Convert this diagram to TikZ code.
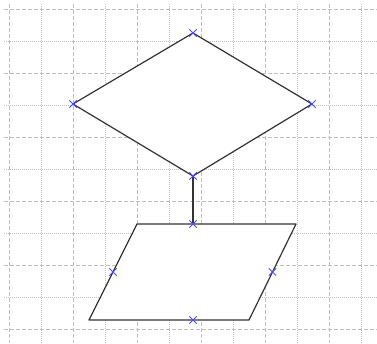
\documentclass[tikz,border=0pt]{standalone}
\usepackage{tikz}
\usetikzlibrary{shapes.misc, calc}
\tikzset{
  majorline/.style={draw=black!25, line width=0.7pt, dash pattern=on 4pt off 2pt},
  minorline/.style={draw=black!25, line width=0.7pt, dash pattern=on 1pt off 1pt},
  outline/.style={draw=black!80, line width=1.2pt, line join=round},
  conn/.style={draw=black!80, line width=1.2pt},
  handle/.style={cross out, draw=blue!70, line width=0.8pt,
                 minimum size=6.5pt, inner sep=0pt},
}
\begin{document}
\begin{tikzpicture}[x=1pt, y=-1pt]
  \useasboundingbox (0,0) rectangle (377,343);
  % grid
  \foreach \k in {0,...,11} {
    \pgfmathtruncatemacro{\odd}{mod(\k,2)}
    \ifnum\odd=0
      \draw[majorline] (9+32*\k, 4) -- (9+32*\k, 343);
    \else
      \draw[minorline] (9+32*\k, 4) -- (9+32*\k, 343);
    \fi
  }
  \foreach \k in {0,...,10} {
    \pgfmathtruncatemacro{\odd}{mod(\k,2)}
    \ifnum\odd=0
      \draw[majorline] (4, 9+32*\k) -- (377, 9+32*\k);
    \else
      \draw[minorline] (4, 9+32*\k) -- (377, 9+32*\k);
    \fi
  }
  % decision
  \coordinate (dtop) at (193,33);
  \coordinate (dleft) at (73,104);
  \coordinate (dright) at (312,104);
  \coordinate (dbot) at (193,176);
  \fill[white] (dtop) -- (dright) -- (dbot) -- (dleft) -- cycle;
  \draw[outline] (dtop) -- (dright) -- (dbot) -- (dleft) -- cycle;
  % data
  \coordinate (ptl) at (137,224);
  \coordinate (ptr) at (296,224);
  \coordinate (pbr) at (249,320);
  \coordinate (pbl) at (89,320);
  \fill[white] (ptl) -- (ptr) -- (pbr) -- (pbl) -- cycle;
  \draw[outline] (ptl) -- (ptr) -- (pbr) -- (pbl) -- cycle;
  \coordinate (ptop) at (193,224);
  \coordinate (pbottom) at (193,320);
  \coordinate (pleft) at ($(pbl)!0.5!(ptl)$);
  \coordinate (pright) at ($(pbr)!0.5!(ptr)$);
  \draw[conn] (dbot) -- (ptop);
  % handles
  \foreach \p in {dtop, dleft, dright, dbot, ptop, pleft, pright, pbottom}
    \node[handle] (h-\p) at (\p) {};
\end{tikzpicture}
\end{document}
